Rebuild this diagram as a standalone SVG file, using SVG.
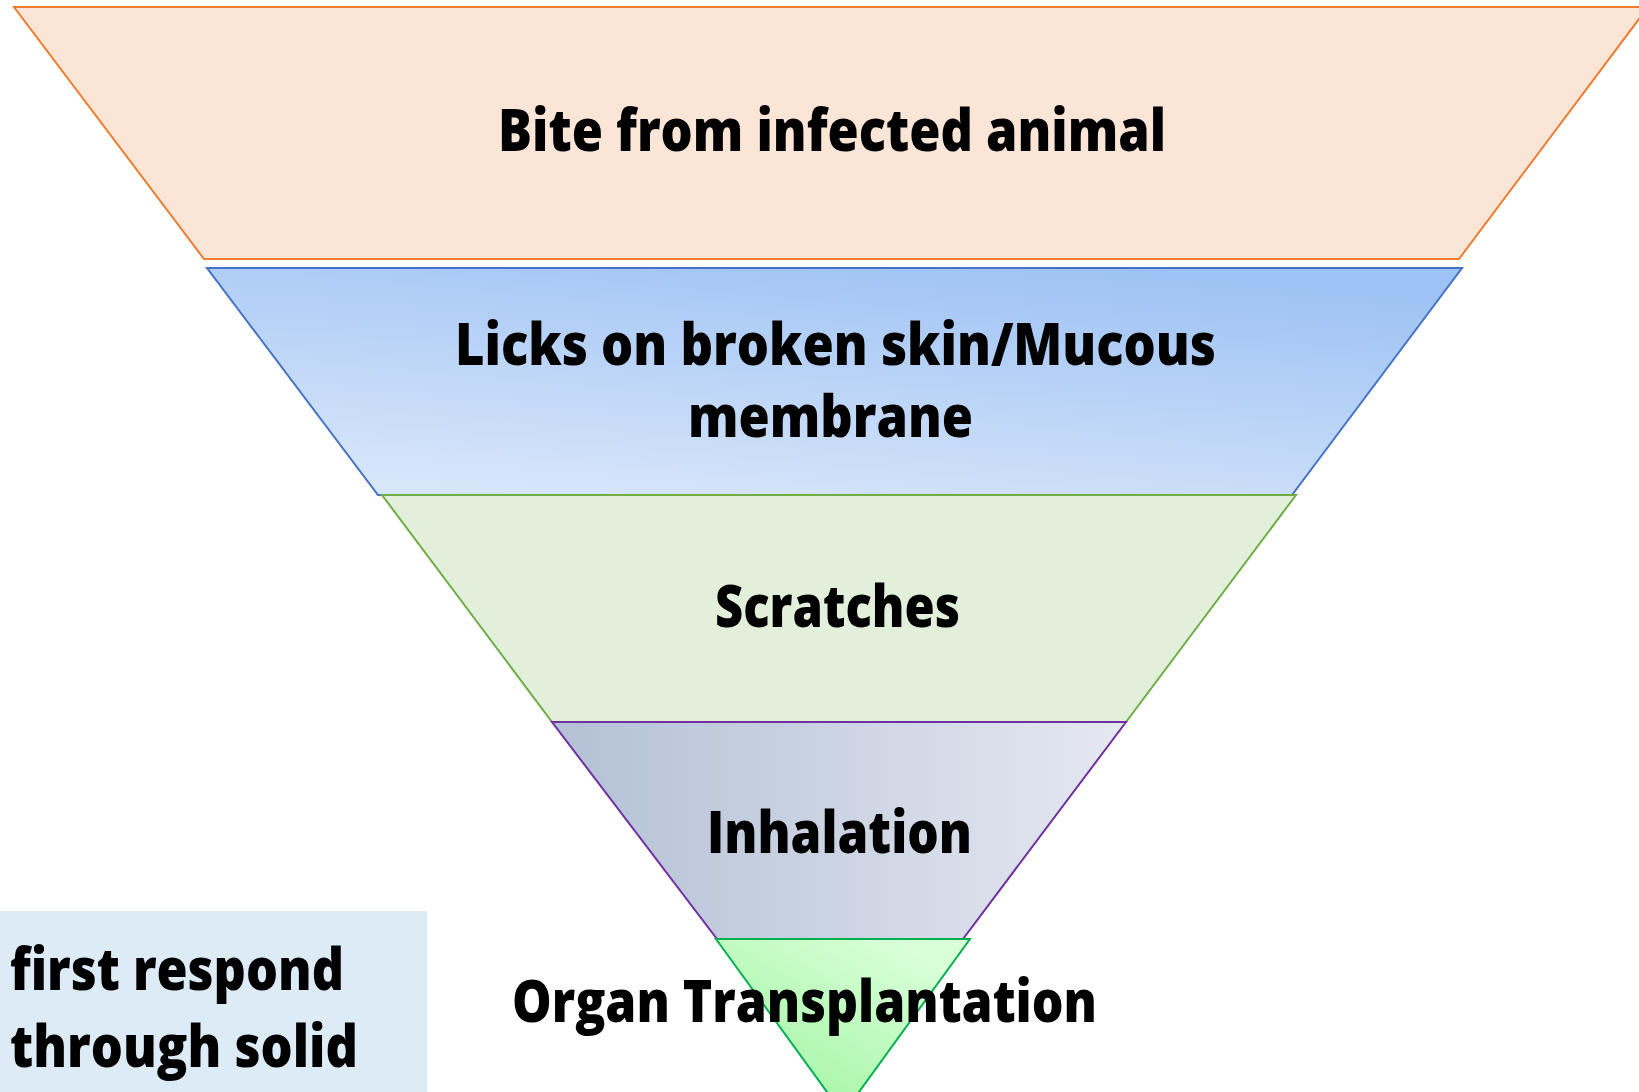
<svg xmlns="http://www.w3.org/2000/svg" width="1639" height="1092" viewBox="0 0 1639 1092">
<defs>
<linearGradient id="gBlue" x1="0.75" y1="0" x2="0.25" y2="1">
<stop offset="0" stop-color="#9dc2f4"/>
<stop offset="1" stop-color="#d8e6fa"/>
</linearGradient>
<linearGradient id="gPurple" x1="0" y1="0" x2="1" y2="0">
<stop offset="0" stop-color="#b3c0d5"/>
<stop offset="1" stop-color="#e5e8f1"/>
</linearGradient>
<linearGradient id="gGreen" x1="0.2" y1="0.8" x2="0.8" y2="0.1">
<stop offset="0" stop-color="#a8f5a8"/>
<stop offset="1" stop-color="#d8ffd8"/>
</linearGradient>
<style>
.lbl{font-family:"Open Sans","Noto Sans","Liberation Sans",sans-serif;font-weight:800;fill:#000;}
.big{font-size:58px;}
.seg{stroke-width:2;stroke-linejoin:miter;}
</style>
</defs>
<rect width="1639" height="1092" fill="#ffffff"/>
<g id="level1">
<polygon class="seg" points="14,7 1648,7 1459,259 204,259" fill="#fbe5d6" stroke="#ed7d31"/>
<text class="lbl big" x="498" y="151" textLength="668" lengthAdjust="spacingAndGlyphs">Bite from infected animal</text>
</g>
<g id="level2">
<polygon class="seg" points="207,268 1462,268 1292,495 378,495" fill="url(#gBlue)" stroke="#4472c4"/>
<text class="lbl big" x="455" y="365" textLength="761" lengthAdjust="spacingAndGlyphs">Licks on broken skin/Mucous</text>
<text class="lbl big" x="688" y="437" textLength="285" lengthAdjust="spacingAndGlyphs">membrane</text>
</g>
<g id="level3">
<polygon class="seg" points="382,495 1296,495 1126,722 552,722" fill="#e2efda" stroke="#70ad47"/>
<text class="lbl big" x="715" y="627" textLength="245" lengthAdjust="spacingAndGlyphs">Scratches</text>
</g>
<g id="level4">
<polygon class="seg" points="552,722 1126,722 963,939 717,939" fill="url(#gPurple)" stroke="#7030a0"/>
<text class="lbl big" x="707" y="853" textLength="265" lengthAdjust="spacingAndGlyphs">Inhalation</text>
</g>
<g id="level5">
<polygon class="seg" points="716,939 970,939 843,1114" fill="url(#gGreen)" stroke="#00b050"/>
<text class="lbl big" x="512" y="1022" textLength="585" lengthAdjust="spacingAndGlyphs">Organ Transplantation</text>
</g>
<g id="note">
<rect x="0" y="911" width="427" height="181" fill="#ddebf7"/>
<text class="lbl big" x="10" y="990" textLength="334" lengthAdjust="spacingAndGlyphs">first respond</text>
<text class="lbl big" x="10" y="1067" textLength="348" lengthAdjust="spacingAndGlyphs">through solid</text>
</g>
<g id="connectors"></g>
</svg>
